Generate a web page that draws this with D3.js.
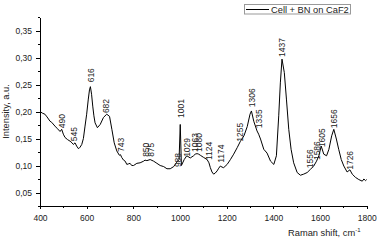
<!DOCTYPE html>
<html>
<head>
<meta charset="utf-8">
<script src="https://cdn.jsdelivr.net/npm/d3@7"></script>
<style>
  body { margin: 0; background: #fff; }
  svg { display: block; font-family: "Liberation Sans", Arial, sans-serif; }
  .axis path, .axis line { stroke: #000; shape-rendering: crispEdges; }
  .axis text { font-size: 8.5px; fill: #222; }
</style>
</head>
<body>
<svg id="chart" width="378" height="241"></svg>
<script>
// Raman spectrum
var shift = [400, 410, 421, 430, 443, 450, 464, 475, 486, 493, 500, 507, 518, 529, 537, 543, 550, 557, 565, 572,
  579, 586, 593, 600, 607, 612, 616, 621, 626, 631, 636, 646, 658, 672, 686, 698, 708, 718, 729, 740,
  745, 750, 758, 765, 772, 779, 786, 793, 801, 815, 829, 844, 850, 858, 872, 887, 901, 915, 930, 944,
  958, 973, 984, 990, 996, 1001, 1006, 1018, 1029, 1044, 1058, 1065, 1073, 1080, 1087, 1101, 1116, 1124, 1130, 1137,
  1144, 1151, 1159, 1166, 1173, 1180, 1187, 1202, 1216, 1230, 1245, 1259, 1274, 1288, 1300, 1306, 1316, 1330, 1337, 1345,
  1359, 1373, 1388, 1402, 1413, 1423, 1430, 1437, 1447, 1456, 1466, 1476, 1487, 1502, 1516, 1530, 1545, 1559, 1573, 1585,
  1595, 1605, 1616, 1628, 1638, 1650, 1659, 1670, 1680, 1691, 1702, 1716, 1728, 1738, 1752, 1766, 1781, 1788, 1795, 1800];
var intensity = [0.200, 0.197, 0.195, 0.190, 0.182, 0.180, 0.173, 0.168, 0.163, 0.167, 0.158, 0.152, 0.148, 0.145, 0.142, 0.139, 0.142, 0.136, 0.131, 0.134,
  0.139, 0.150, 0.173, 0.195, 0.223, 0.240, 0.246, 0.232, 0.210, 0.192, 0.179, 0.170, 0.176, 0.189, 0.195, 0.191, 0.167, 0.142, 0.127, 0.119,
  0.120, 0.115, 0.110, 0.108, 0.102, 0.103, 0.104, 0.100, 0.100, 0.104, 0.105, 0.108, 0.110, 0.109, 0.111, 0.108, 0.104, 0.100, 0.098, 0.094,
  0.094, 0.098, 0.105, 0.108, 0.111, 0.176, 0.100, 0.111, 0.118, 0.114, 0.118, 0.121, 0.122, 0.121, 0.119, 0.115, 0.111, 0.105, 0.096, 0.088,
  0.084, 0.086, 0.090, 0.095, 0.099, 0.097, 0.096, 0.102, 0.111, 0.121, 0.133, 0.145, 0.155, 0.172, 0.195, 0.201, 0.182, 0.164, 0.158, 0.149,
  0.130, 0.123, 0.108, 0.102, 0.118, 0.192, 0.253, 0.297, 0.272, 0.223, 0.167, 0.130, 0.105, 0.087, 0.082, 0.084, 0.087, 0.093, 0.099, 0.108,
  0.118, 0.136, 0.121, 0.118, 0.130, 0.155, 0.167, 0.149, 0.130, 0.111, 0.099, 0.088, 0.092, 0.084, 0.078, 0.074, 0.071, 0.075, 0.072, 0.074];

// peak annotations: wavenumber and the intensity where the label starts
var peaks = [490, 545, 616, 682, 743, 850, 875, 988, 1001, 1029, 1063, 1080, 1124, 1174, 1255, 1306, 1335, 1437, 1556, 1586, 1605, 1656, 1726];
var peakLevel = [0.169, 0.145, 0.254, 0.197, 0.125, 0.116, 0.116, 0.097, 0.188, 0.116, 0.125, 0.125, 0.110, 0.105, 0.144, 0.208, 0.169, 0.301, 0.095, 0.110, 0.134, 0.169, 0.092];

var xTicks = [400, 600, 800, 1000, 1200, 1400, 1600, 1800];
var xMinor = [500, 700, 900, 1100, 1300, 1500, 1700];
var yTicks = [0.05, 0.10, 0.15, 0.20, 0.25, 0.30, 0.35];
var yMinor = [0.025, 0.075, 0.125, 0.175, 0.225, 0.275, 0.325, 0.375];
var seriesName = "Cell + BN on CaF2";

const svg = d3.select("#chart");
const comma = d3.formatLocale({decimal: ",", thousands: ".", grouping: [3], currency: ["", ""]}).format(".2f");

const x = d3.scaleLinear().domain([400, 1800]).range([40, 366.7]);
const y = d3.scaleLinear().domain([0.025, 0.375]).range([206, 17]);

// axes, minor ticks first
svg.append("g")
  .attr("class", "axis")
  .attr("transform", "translate(0,206)")
  .call(d3.axisBottom(x).tickValues(xMinor).tickSize(2).tickSizeOuter(0).tickFormat(""))
  .select(".domain").remove();
svg.append("g")
  .attr("class", "axis")
  .attr("transform", "translate(0,206)")
  .call(d3.axisBottom(x).tickValues(xTicks).tickSize(3).tickSizeOuter(0).tickPadding(6).tickFormat(d3.format("d")));

svg.append("g")
  .attr("class", "axis")
  .attr("transform", "translate(40,0)")
  .call(d3.axisLeft(y).tickValues(yMinor).tickSize(2).tickSizeOuter(0).tickFormat(""))
  .select(".domain").remove();
svg.append("g")
  .attr("class", "axis")
  .attr("transform", "translate(40,0)")
  .call(d3.axisLeft(y).tickValues(yTicks).tickSize(4).tickSizeOuter(0).tickPadding(4).tickFormat(comma));

// spectrum
const line = d3.line()
  .x((d, i) => x(shift[i]))
  .y((d) => y(d));

svg.append("path")
  .datum(intensity)
  .attr("fill", "none")
  .attr("stroke", "#000")
  .attr("stroke-width", 1)
  .attr("stroke-linejoin", "round")
  .attr("d", line);

// peak labels
svg.selectAll(".peak")
  .data(peaks)
  .enter()
  .append("text")
    .attr("class", "peak")
    .attr("transform", (d, i) => "translate(" + (x(d) + 3.5) + "," + y(peakLevel[i]) + ") rotate(-90)")
    .attr("font-size", "8.5px")
    .attr("fill", "#222")
    .text((d) => d);

// axis titles
svg.append("text")
  .attr("transform", "translate(9,111.5) rotate(-90)")
  .attr("text-anchor", "middle")
  .attr("font-size", "9.3px")
  .attr("fill", "#222")
  .text("Intensity, a.u.");

const xt = svg.append("text")
  .attr("x", 288)
  .attr("y", 236)
  .attr("font-size", "9.3px")
  .attr("fill", "#222");
xt.append("tspan").text("Raman shift, cm");
xt.append("tspan").attr("dy", -4).attr("font-size", "6px").text("-1");

// legend
const legend = svg.append("g");
legend.append("rect")
  .attr("x", 244.5).attr("y", 4.5)
  .attr("width", 106).attr("height", 9.5)
  .attr("fill", "#fff")
  .attr("stroke", "#999")
  .attr("stroke-width", 1);
legend.append("line")
  .attr("x1", 246).attr("x2", 269)
  .attr("y1", 9.5).attr("y2", 9.5)
  .attr("stroke", "#000");
legend.append("text")
  .attr("x", 271).attr("y", 12.6)
  .attr("font-size", "9.3px")
  .attr("fill", "#222")
  .text(seriesName);
</script>
</body>
</html>
